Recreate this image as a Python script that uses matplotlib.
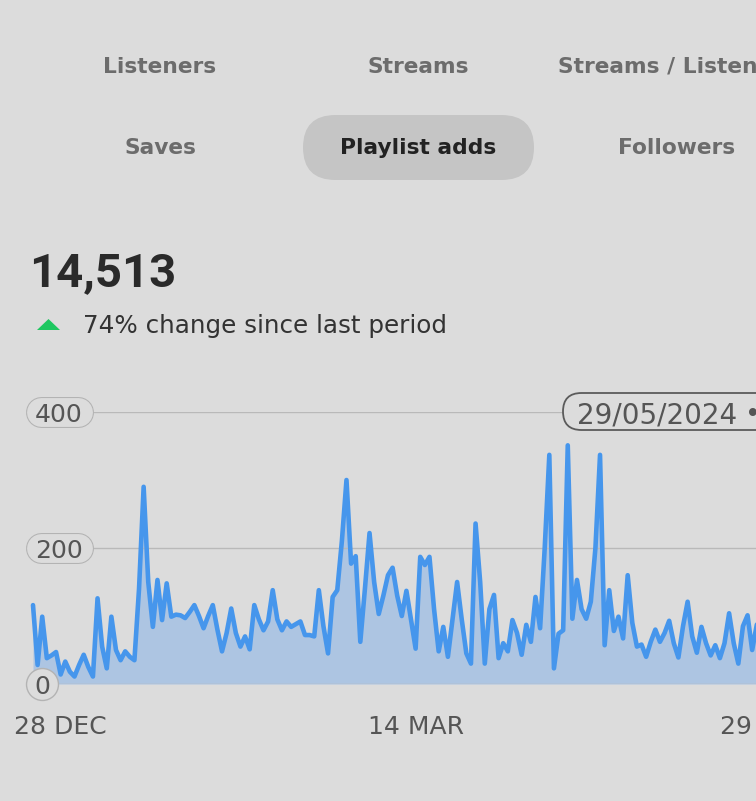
import numpy as np
import pandas as pd
import matplotlib
matplotlib.use('Agg')
import matplotlib.pyplot as plt
import matplotlib.transforms as mtransforms
from matplotlib.patches import FancyBboxPatch, Polygon

W, H = 756, 801
BG = '#dcdcdc'

# ---- data ----
tabs_row1 = ['Listeners', 'Streams', 'Streams / Listeners']
tabs_row2 = ['Saves', 'Playlist adds', 'Followers']
active_tab = 'Playlist adds'
total_label = '14,513'
change_label = '74% change since last period'
tooltip_label = '29/05/2024'

start_date = '2023-12-22'
playlist_adds = [
    116, 28, 99, 38, 42, 47, 14, 33, 18, 11,
    28, 43, 25, 11, 126, 55, 23, 99, 50, 35,
    48, 40, 35, 140, 290, 150, 84, 153, 94, 148,
    99, 102, 101, 97, 106, 116, 100, 82, 100, 116,
    80, 48, 75, 111, 75, 55, 70, 51, 116, 95,
    79, 92, 138, 95, 79, 92, 84, 88, 92, 72,
    72, 70, 138, 85, 45, 128, 138, 210, 300, 177,
    188, 62, 140, 222, 150, 103, 130, 160, 171, 130,
    100, 137, 95, 52, 187, 175, 187, 110, 48, 84,
    40, 95, 150, 95, 45, 30, 236, 150, 30, 110,
    131, 38, 60, 48, 94, 75, 43, 87, 62, 128,
    82, 200, 337, 23, 74, 79, 351, 96, 153, 110,
    96, 121, 200, 337, 57, 138, 78, 99, 67, 160,
    90, 55, 58, 40, 62, 80, 62, 75, 93, 60,
    39, 85, 121, 70, 46, 84, 60, 42, 57, 38,
    60, 104, 60, 30, 85, 101, 50, 87, 100,
]
y_ticks = [0, 200, 400]
x_tick_dates = ['2023-12-28', '2024-03-14', '2024-05-29']
x_tick_labels = ['28 DEC', '14 MAR', '29 MAY']


def fx(px):
    return px / W


def fy(py):
    return 1 - py / H


fig = plt.figure(figsize=(W / 100, H / 100), dpi=100, facecolor=BG)

# tab selector
pill = FancyBboxPatch((3.03, (H - 180) / 100), 2.31, 0.65,
                      boxstyle='round,pad=0,rounding_size=0.325',
                      transform=fig.dpi_scale_trans, fc='#c5c5c5', ec='none')
fig.add_artist(pill)
for name, x in zip(tabs_row1, [160, 418, 558]):
    fig.text(fx(x), fy(67), name, ha='left' if x == 558 else 'center', va='center',
             fontsize=15.7, fontweight='bold', color='#6c6c6c')
for name, x in zip(tabs_row2, [160, 418, 677]):
    fig.text(fx(x), fy(148), name, ha='center', va='center', fontsize=15.7,
             fontweight='bold', color='#222222' if name == active_tab else '#6c6c6c')

# headline number
fig.text(fx(29), fy(273), total_label, ha='left', va='center', fontsize=34,
         fontweight='bold', family='Roboto', color='#2a2a2a')
tri = Polygon([[0.37, (H - 330) / 100], [0.60, (H - 330) / 100], [0.485, (H - 319) / 100]],
              transform=fig.dpi_scale_trans, fc='#1ec760', ec='none')
fig.add_artist(tri)
fig.text(fx(83), fy(326), change_label, ha='left', va='center', fontsize=17.7, color='#333333')

# chart -- the axes runs past the right edge, like the cropped screenshot
AX_W = 1.12
ax = fig.add_axes([0, 117 / H, AX_W, 272 / H])
ax.set_facecolor('none')
for s in ax.spines.values():
    s.set_visible(False)


def axf(px):
    return px / (W * AX_W)


start = pd.Timestamp(start_date)
days = np.arange(len(playlist_adds))
ax.fill_between(days, playlist_adds, 0, color='#adc5e2', lw=0, zorder=1)
ax.plot(days, playlist_adds, color='#4696ec', lw=3.3, solid_joinstyle='round',
        solid_capstyle='round', zorder=3, clip_on=False)

ax.set_yticks([])
tick_pos = [(pd.Timestamp(d) - start).days for d in x_tick_dates]
ax.set_xticks(tick_pos)
ax.set_xticklabels(x_tick_labels, fontsize=18, color='#555555')
ax.tick_params(axis='x', length=0, pad=22.5)

px_per_day = 4.61
ax.set_xlim(-33 / px_per_day, (W * AX_W - 33) / px_per_day)
ax.set_ylim(0, 400)

blend = mtransforms.blended_transform_factory(fig.transFigure, ax.transData)
for y in y_ticks:
    if y == 0:
        ax.axhline(0, xmin=axf(58), color='#b9b9b9', lw=1, zorder=2)
        ax.plot([fx(42)], [0], marker='o', ms=23, mfc=BG, mec='#b3b3b3', mew=1,
                transform=blend, clip_on=False, zorder=6)
        ax.text(fx(42), 0, str(y), transform=blend, ha='center', va='center_baseline',
                fontsize=18, color='#555555', zorder=7)
    else:
        ax.axhline(y, xmin=axf(93), color='#b9b9b9', lw=1, zorder=2)
        ax.plot([fx(40.5), fx(77.5)], [y, y], transform=blend, lw=22.3, color='#b3b3b3',
                solid_capstyle='round', clip_on=False, zorder=5)
        ax.plot([fx(40.5), fx(77.5)], [y, y], transform=blend, lw=20.8, color=BG,
                solid_capstyle='round', clip_on=False, zorder=6)
        ax.text(fx(59), y, str(y), transform=blend, ha='center', va='center_baseline',
                fontsize=18, color='#555555', zorder=7)

# hover tooltip
tip = FancyBboxPatch((5.63, (H - 430) / 100), 2.5, 0.37,
                     boxstyle='round,pad=0,rounding_size=0.185',
                     transform=fig.dpi_scale_trans, fc=BG, ec='#5b5b5b', lw=1.3, zorder=8)
fig.add_artist(tip)
fig.text(fx(577), fy(412), tooltip_label, ha='left', va='center_baseline', fontsize=20,
         color='#555555', zorder=9)
fig.text(fx(753), fy(412), '\u2022', ha='center', va='center_baseline', fontsize=19,
         color='#555555', zorder=9)

fig.savefig('out.png', dpi=100, facecolor=BG)
